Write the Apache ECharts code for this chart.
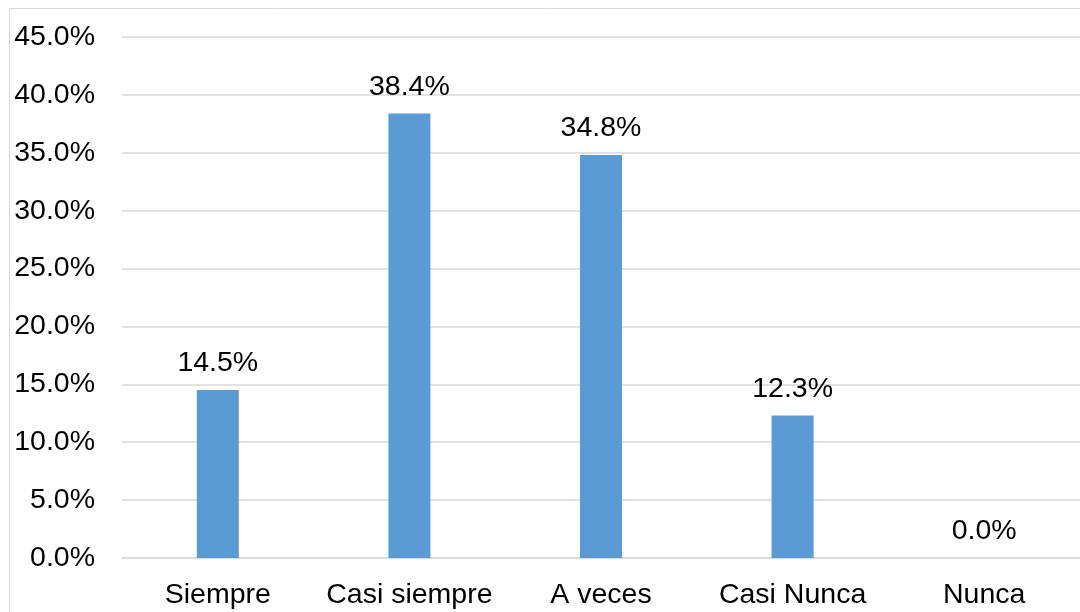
<!DOCTYPE html>
<html>
<head>
<meta charset="utf-8">
<script src="https://cdn.jsdelivr.net/npm/echarts@6/dist/echarts.min.js"></script>
<style>
  html, body { margin: 0; padding: 0; background: #ffffff; }
  #chart { width: 1080px; height: 612px; }
</style>
</head>
<body>
<div id="chart"></div>
<script>
// Response categories and share of answers (%)
const categories = ['Siempre', 'Casi siempre', 'A veces', 'Casi Nunca', 'Nunca'];
const percentages = [14.5, 38.4, 34.8, 12.3, 0.0];

const FONT = '"Liberation Sans", Arial, sans-serif';

const chart = echarts.init(document.getElementById('chart'));
chart.setOption({
  animation: false,
  backgroundColor: '#ffffff',
  graphic: [
    // chart-area frame (left and top edges)
    { type: 'line', shape: { x1: 9.5, y1: 8.5, x2: 9.5, y2: 620 }, style: { stroke: '#d9d9d9', lineWidth: 1 } },
    { type: 'line', shape: { x1: 9.5, y1: 8.5, x2: 1090, y2: 8.5 }, style: { stroke: '#d9d9d9', lineWidth: 1 } }
  ],
  grid: { left: 122, right: -4, top: 37, bottom: 54, containLabel: false },
  xAxis: {
    type: 'category',
    data: categories,
    axisLine: { show: true, lineStyle: { color: '#d9d9d9', width: 1.5 } },
    axisTick: { show: false },
    axisLabel: {
      color: '#000000', fontSize: 28.5, fontFamily: FONT, margin: 23,
      interval: 0, hideOverlap: false
    }
  },
  yAxis: {
    type: 'value',
    min: 0,
    max: 45,
    interval: 5,
    axisLine: { show: false },
    axisTick: { show: false },
    splitLine: { lineStyle: { color: '#d9d9d9', width: 1.5 } },
    axisLabel: {
      color: '#000000', fontSize: 28.5, fontFamily: FONT, margin: 27,
      formatter: v => v.toFixed(1) + '%'
    }
  },
  series: [{
    type: 'bar',
    data: percentages,
    barWidth: 42,
    itemStyle: { color: '#5b9bd5' },
    label: {
      show: true,
      position: 'top',
      distance: 12,
      color: '#000000',
      fontSize: 28.5,
      fontFamily: FONT,
      formatter: p => p.value.toFixed(1) + '%'
    }
  }]
});
</script>
</body>
</html>
